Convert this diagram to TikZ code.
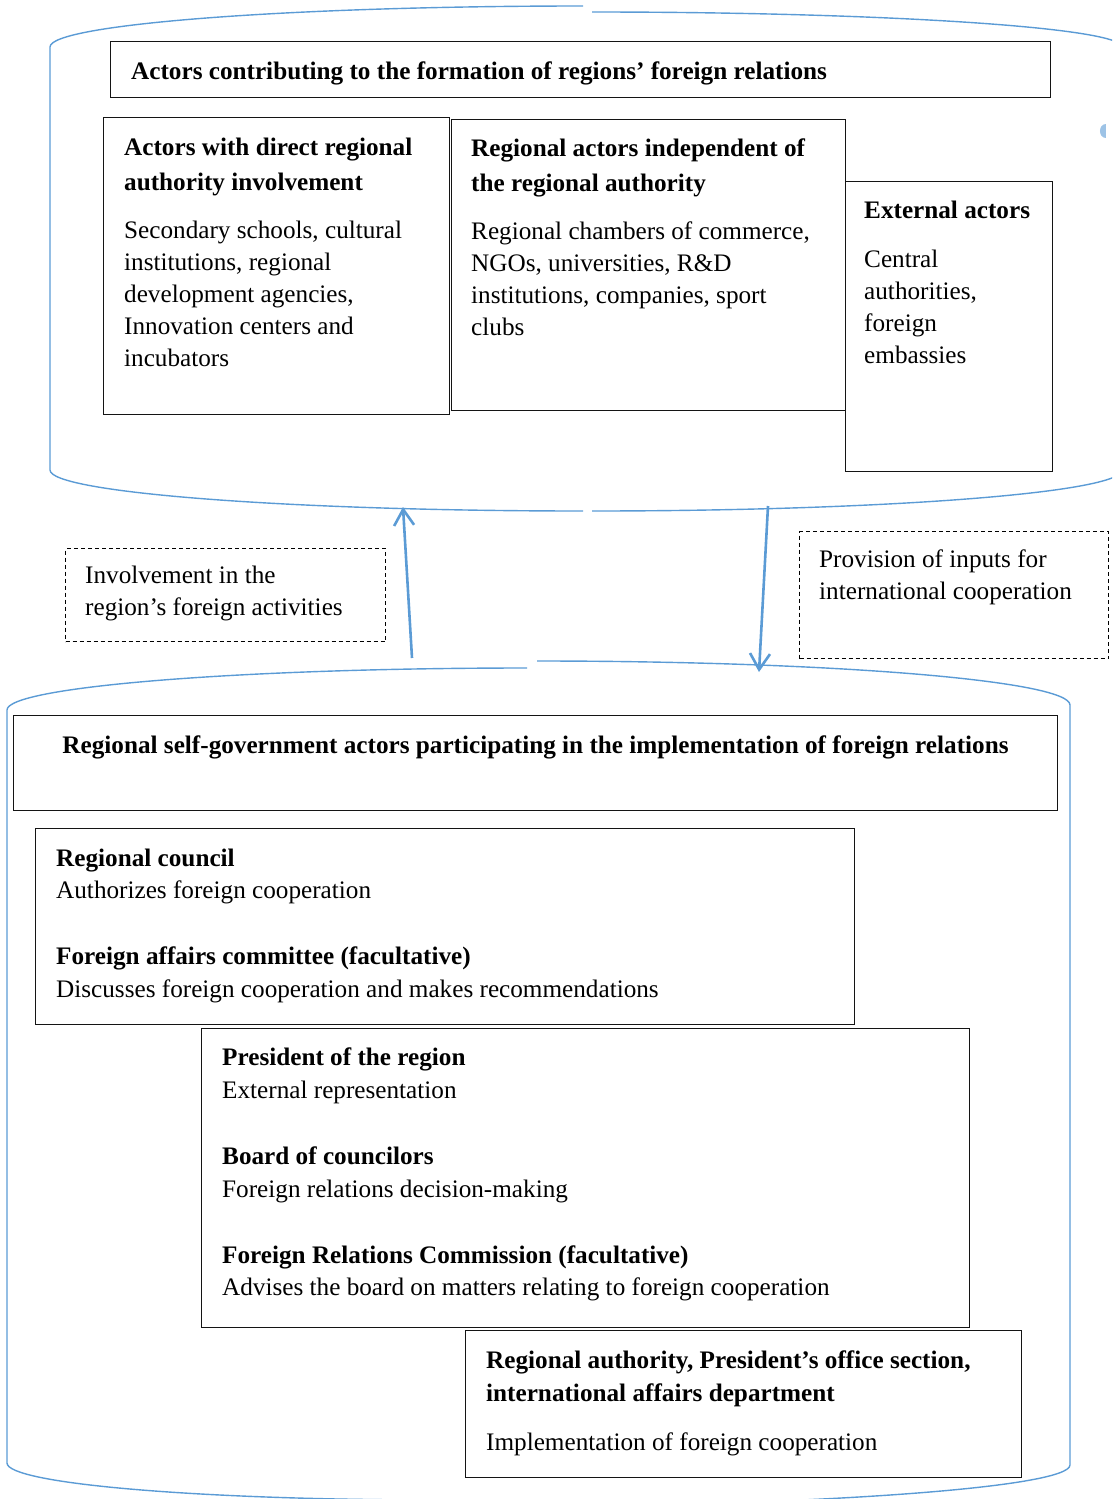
\documentclass[tikz,border=0pt]{standalone}
\usepackage{fontspec}
\setmainfont{Liberation Serif}
\usetikzlibrary{arrows.meta}
\definecolor{wblue}{HTML}{5B9BD5}
\definecolor{wbluelight}{HTML}{9DC3E6}
\begin{document}
\begin{tikzpicture}[x=1pt,y=-1pt,
  box/.style={draw=black!92, line width=1.4pt, fill=white, inner sep=0pt, anchor=north west},
  dbox/.style={draw=black, line width=1pt, dash pattern=on 4pt off 3pt, inner sep=0pt, anchor=north west},
  txt/.style={inner sep=0pt, anchor=base west, font=\fontsize{25.2}{32}\selectfont},
  btxt/.style={inner sep=0pt, anchor=base west, font=\fontsize{25.2}{32}\selectfont\bfseries},
  cyl/.style={draw=wblue, line width=1.4pt},
  arr/.style={draw=wblue, line width=2.6pt, -{Straight Barb[length=16pt,width=20pt]}}]
\useasboundingbox (0,0) rectangle (1112,1499);
\clip (0,0) rectangle (1112,1499);

% ---------- upper container ----------
\draw[cyl] (583,6) .. controls (288.6,6) and (50,24.4) .. (50,47) -- (50,470)
  .. controls (50,492.6) and (288.6,511) .. (583,511);
\draw[cyl] (592,12) .. controls (884.7,12) and (1122,27.7) .. (1122,47) -- (1122,470)
  .. controls (1122,492.6) and (884.7,511) .. (592,511);
\fill[wbluelight] (1106,124) .. controls (1098,124) and (1098,138) .. (1106,138) -- cycle;

% ---------- lower container ----------
\draw[cyl] (527,668) .. controls (239.8,668) and (7,686.8) .. (7,710) -- (7,1463)
  .. controls (7,1483.4) and (195,1500) .. (440,1500);
\draw[cyl] (537,661) .. controls (831.4,661) and (1070,680.7) .. (1070,705) -- (1070,1465)
  .. controls (1070,1488.2) and (801.4,1507) .. (470,1507);

% ---------- boxes ----------
\node[box, minimum width=940pt, minimum height=56pt] (t1) at (110,41) {};
\node[box, minimum width=346pt, minimum height=297pt] (ba) at (103,117) {};
\node[box, minimum width=394pt, minimum height=291pt] (bb) at (451,119) {};
\node[box, minimum width=207pt, minimum height=290pt] (bc) at (845,181) {};
\node[dbox, minimum width=320pt, minimum height=93pt] (dl) at (65,548) {};
\node[dbox, minimum width=309pt, minimum height=127pt] (dr) at (799,531) {};
\node[box, minimum width=1044pt, minimum height=95pt] (t2) at (13,715) {};
\node[box, minimum width=819pt, minimum height=196pt] (bcn) at (35,828) {};
\node[box, minimum width=768pt, minimum height=299pt] (bpr) at (201,1028) {};
\node[box, minimum width=556pt, minimum height=147pt] (bra) at (465,1330) {};

% ---------- texts ----------
\node[btxt] (t1a) at (131,79) {Actors contributing to the formation of regions’ foreign relations};

\node[btxt] (a1) at (124,155) {Actors with direct regional};
\node[btxt] (a2) at (124,190) {authority involvement};
\node[txt] (a3) at (124,238) {Secondary schools, cultural};
\node[txt] (a4) at (124,270) {institutions, regional};
\node[txt] (a5) at (124,302) {development agencies,};
\node[txt] (a6) at (124,334) {Innovation centers and};
\node[txt] (a7) at (124,366) {incubators};

\node[btxt] (b1) at (471,156) {Regional actors independent of};
\node[btxt] (b2) at (471,191) {the regional authority};
\node[txt] (b3) at (471,239) {Regional chambers of commerce,};
\node[txt] (b4) at (471,271) {NGOs, universities, R\&D};
\node[txt] (b5) at (471,303) {institutions, companies, sport};
\node[txt] (b6) at (471,335) {clubs};

\node[btxt] (c1) at (864,218) {External actors};
\node[txt] (c2) at (864,267) {Central};
\node[txt] (c3) at (864,299) {authorities,};
\node[txt] (c4) at (864,331) {foreign};
\node[txt] (c5) at (864,363) {embassies};

\node[txt] (l1) at (85,583) {Involvement in the};
\node[txt] (l2) at (85,615) {region’s foreign activities};
\node[txt] (r1) at (819,567) {Provision of inputs for};
\node[txt] (r2) at (819,599) {international cooperation};

\node[btxt, anchor=base] (t2a) at (535.5,753) {Regional self-government actors participating in the implementation of foreign relations};

\node[btxt] (n1) at (56,866) {Regional council};
\node[txt] (n2) at (56,898) {Authorizes foreign cooperation};
\node[btxt] (n3) at (56,964) {Foreign affairs committee (facultative)};
\node[txt] (n4) at (56,997) {Discusses foreign cooperation and makes recommendations};

\node[btxt] (p1) at (222,1065) {President of the region};
\node[txt] (p2) at (222,1098) {External representation};
\node[btxt] (p3) at (222,1164) {Board of councilors};
\node[txt] (p4) at (222,1197) {Foreign relations decision-making};
\node[btxt] (p5) at (222,1263) {Foreign Relations Commission (facultative)};
\node[txt] (p6) at (222,1295) {Advises the board on matters relating to foreign cooperation};

\node[btxt] (q1) at (486,1368) {Regional authority, President’s office section,};
\node[btxt] (q2) at (486,1401) {international affairs department};
\node[txt] (q3) at (486,1450) {Implementation of foreign cooperation};

% ---------- arrows ----------
\coordinate (upS) at (412,658);
\coordinate (upE) at (403,507);
\coordinate (dnS) at (768,506);
\coordinate (dnE) at (759,672);
\draw[arr] (upS) -- (upE);
\draw[arr] (dnS) -- (dnE);
\end{tikzpicture}
\end{document}
